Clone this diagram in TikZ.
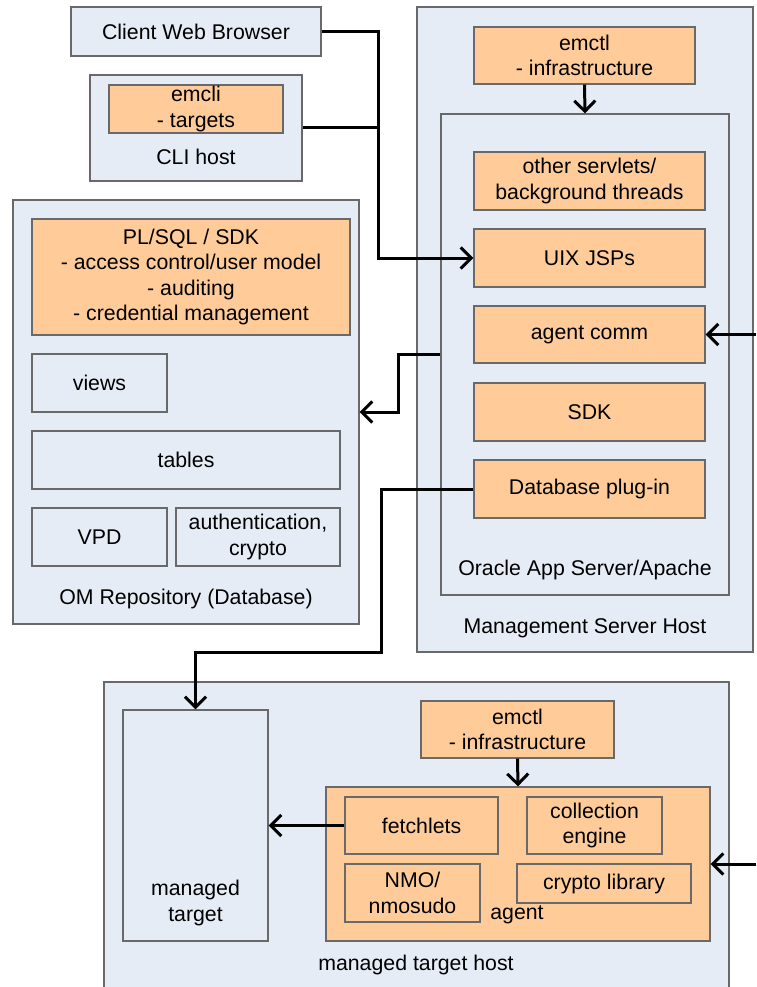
\documentclass[tikz,border=0pt]{standalone}
\usepackage{fontspec}
\setmainfont{Liberation Sans}
\usepackage{tikz}
\usetikzlibrary{arrows.meta,positioning,calc}

\definecolor{hostblue}{RGB}{230,236,246}
\definecolor{partorange}{RGB}{255,204,153}
\definecolor{edgegray}{RGB}{105,105,105}

\begin{document}
\begin{tikzpicture}[x=1pt, y=-1pt,
    every node/.style={font=\fontsize{21.3}{25.5}\selectfont},
    hostbox/.style={draw=edgegray, fill=hostblue, line width=1.3pt, inner sep=0pt, align=center},
    partbox/.style={draw=edgegray, fill=partorange, line width=1.3pt, inner sep=0pt, align=center},
    caption/.style={inner sep=0pt, align=center},
    wire/.style={line width=3pt},
    link/.style={line width=3pt, -{Straight Barb[length=10.5pt,width=21pt]}}]
    \useasboundingbox (0,0) rectangle (756,987);

    % clients
    \node[hostbox, minimum width=250pt, minimum height=49pt] (browser) at (196,31.5) {Client Web Browser};
    \node[hostbox, minimum width=212pt, minimum height=106pt] (clihost) at (196,128) {};
    \node[partbox, minimum width=174pt, minimum height=48pt] (emcli) at (196,109) {emcli\\- targets};
    \node[caption] (clilabel) at (196,157) {CLI host};

    % repository
    \node[hostbox, minimum width=346pt, minimum height=424pt] (omrepo) at (186,412) {};
    \node[partbox, minimum width=318pt, minimum height=116pt] (plsql) at (191,277)
        {PL/SQL / SDK\\- access control/user model\\- auditing\\- credential management};
    \node[hostbox, minimum width=135pt, minimum height=58pt] (views) at (99.5,383) {views};
    \node[hostbox, minimum width=308pt, minimum height=58pt] (tables) at (186,460) {tables};
    \node[hostbox, minimum width=135pt, minimum height=58pt] (vpd) at (99.5,537) {VPD};
    \node[hostbox, minimum width=164pt, minimum height=58pt] (auth) at (258,537) {authentication,\\crypto};
    \node[caption] (repolabel) at (186,599) {OM Repository (Database)};

    % management server
    \node[hostbox, minimum width=336pt, minimum height=645pt] (msh) at (585,329.5) {};
    \node[partbox, minimum width=221pt, minimum height=57pt] (emctl) at (584.5,55.5) {emctl\\- infrastructure};
    \node[hostbox, minimum width=288pt, minimum height=481pt] (oas) at (585,354.5) {};
    \node[partbox, minimum width=231pt, minimum height=58pt] (servlets) at (589.5,181) {other servlets/\\background threads};
    \node[partbox, minimum width=231pt, minimum height=58pt] (uix) at (589.5,258) {UIX JSPs};
    \node[partbox, minimum width=231pt, minimum height=57pt] (agentcomm) at (589.5,334.5) {agent comm};
    \node[partbox, minimum width=231pt, minimum height=58pt] (sdk) at (589.5,412) {SDK};
    \node[partbox, minimum width=231pt, minimum height=58pt] (dbplugin) at (589.5,489) {Database plug-in};
    \node[caption] (oaslabel) at (585,570) {Oracle App Server/Apache};
    \node[caption] (mshlabel) at (585,628) {Management Server Host};

    % managed target host
    \node[hostbox, minimum width=625pt, minimum height=313pt] (mth) at (416.5,838.5) {};
    \node[hostbox, minimum width=145pt, minimum height=231pt] (mtarget) at (195.5,825.5) {};
    \node[caption] (mtargetlabel) at (195.5,903) {managed\\target};
    \node[partbox, minimum width=193pt, minimum height=57pt] (emctlb) at (517.5,729.5) {emctl\\- infrastructure};
    \node[partbox, minimum width=384pt, minimum height=154pt] (agent) at (518,864) {};
    \node[partbox, minimum width=153pt, minimum height=57pt] (fetchlets) at (421.5,825.5) {fetchlets};
    \node[partbox, minimum width=135pt, minimum height=57pt] (collengine) at (594.5,825.5) {collection\\engine};
    \node[partbox, minimum width=135pt, minimum height=58pt] (nmo) at (412.5,893) {NMO/\\nmosudo};
    \node[partbox, minimum width=174pt, minimum height=39pt] (crypto) at (604,883.5) {crypto library};
    \node[caption] (agentlabel) at (517,915) {agent};
    \node[caption] (mthlabel) at (416,965) {managed target host};

    % connectors
    \coordinate (busx) at (378,258);
    \coordinate (dbturn) at (398,412);
    \coordinate (plugdrop) at (381,652.5);
    \coordinate (fromagents) at (756,334.5);
    \coordinate (fromtargets) at (756,864);

    \draw[link] (browser.east) -| (busx) -- (uix.west);
    \draw[wire] (clihost.east) -- (clihost.east -| busx);
    \draw[link] (emctl.south) -- (oas.north);
    \draw[link] (fromagents) -- (agentcomm.east);
    \draw[link] (oas.west) -| (dbturn) -- (omrepo.east);
    \draw[link] (dbplugin.west) -| (plugdrop) -| (mtarget.north);
    \draw[link] (emctlb.south) -- (agent.north);
    \draw[link] (fetchlets.west) -- (mtarget.east);
    \draw[link] (fromtargets) -- (agent.east);
\end{tikzpicture}
\end{document}
